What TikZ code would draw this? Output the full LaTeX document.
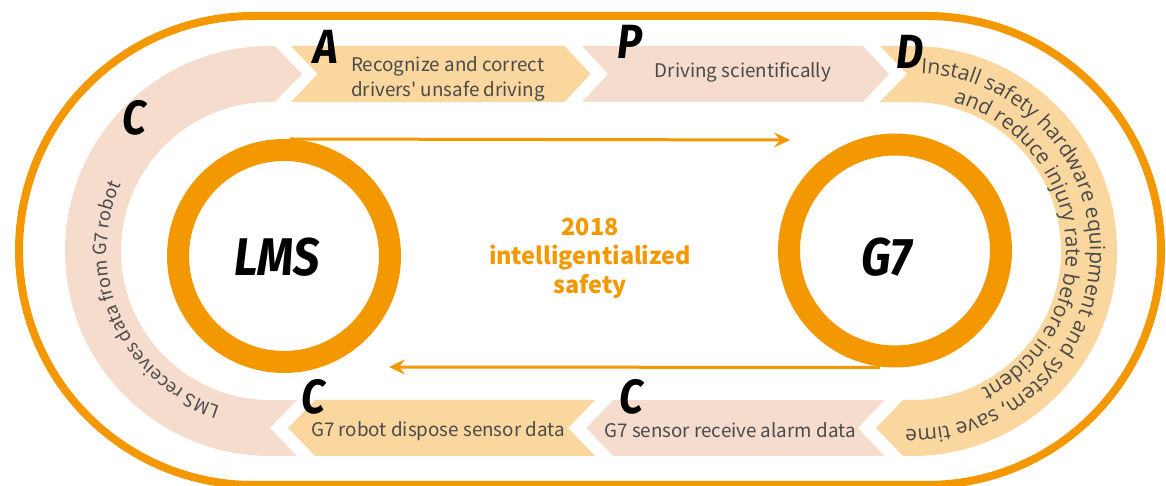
\documentclass[tikz,border=0pt]{standalone}
\usepackage{fontspec}
\setmainfont{Noto Sans CJK SC}[Ligatures=TeXOff]
\newfontfamily\letterfont{Fira Sans}[FakeStretch=0.88]
\newfontfamily\arcfont{Open Sans}
\usetikzlibrary{decorations.text,arrows.meta}
\definecolor{org}{HTML}{F39800}
\definecolor{pinkband}{HTML}{F5DCCD}
\definecolor{yelband}{HTML}{FAD79E}
\definecolor{txt}{HTML}{4A4A4A}
\tikzset{
  letter/.style={font=\letterfont\bfseries\itshape\fontsize{24}{24}\selectfont, text=black, inner sep=0pt},
  bigword/.style={font=\letterfont\bfseries\itshape\fontsize{26.5}{26.5}\selectfont, text=black, inner sep=0pt},
  body/.style={font=\fontsize{9.4}{12.5}\selectfont, text=txt, align=left, inner sep=0pt},
  midtext/.style={font=\bfseries\fontsize{11.7}{14.5}\selectfont, text=org, align=center, inner sep=0pt},
  ring/.style={circle, draw=org, line width=11pt, minimum size=106pt, inner sep=0pt},
  flow/.style={draw=org, line width=1.5pt, -{Stealth[length=8pt,width=7.5pt,inset=3pt]}},
  arctext/.style={decorate, decoration={text along path, text align=center, text={#1}}}
}
\begin{document}
\begin{tikzpicture}[x=0.5pt,y=0.5pt]
\useasboundingbox (0,0) rectangle (1166,486);
% outer racetrack
\draw[org, line width=4pt] (253.5,470) -- (926.5,470) arc[start angle=90,end angle=-90,radius=234.5] -- (253.5,1) arc[start angle=270,end angle=90,radius=234.5] -- cycle;
% left band
\fill[pinkband] (275,440) -- (302,412) -- (275,384) -- (270,384) arc[start angle=90,end angle=270,radius=149] -- (297,86) -- (270,58) -- (297,30) -- (270,30) arc[start angle=270,end angle=90,radius=205] -- cycle;
% right band
\fill[yelband] (880,440) -- (907,412) -- (880,384) -- (912,384) arc[start angle=90,end angle=-90,radius=149] -- (903,86) -- (876,58) -- (903,30) -- (912,30) arc[start angle=-90,end angle=90,radius=205] -- cycle;
% top boxes
\fill[yelband] (291,440) -- (317.5,412) -- (291,384) -- (564.5,384) -- (590.5,412) -- (564.5,440) -- cycle;
\fill[pinkband] (582,440) -- (608,412) -- (582,384) -- (863,384) -- (889,412) -- (863,440) -- cycle;
% bottom boxes
\fill[yelband] (288,58) -- (315,86) -- (595,86) -- (568,58) -- (595,30) -- (315,30) -- cycle;
\fill[pinkband] (586.5,58) -- (613,86) -- (884.5,86) -- (858,58) -- (884.5,30) -- (613,30) -- cycle;
% letters
\node[letter] (lA) at (326,439) {A};
\node[letter] (lP) at (630,444) {P};
\node[letter] (lD) at (910,434) {D};
\node[letter] (lC1) at (134,368) {C};
\node[letter] (lC2) at (313,89) {C};
\node[letter] (lC3) at (631,89) {C};
% box texts
\node[body] (tA) at (448,407.5) {Recognize and correct\\drivers' unsafe driving};
\node[body] (tP) at (743,414) {Driving scientifically};
\node[body] (tR) at (438,55) {G7 robot dispose sensor data};
\node[body] (tS) at (730,56) {G7 sensor receive alarm data};
% arc texts
\path[arctext={|\fontsize{9.1}{10}\selectfont\color{txt}|LMS receives data from G7 robot}] (270,235) ++(258:163) arc[start angle=258,end angle=150,radius=163];
\path[arctext={|\arcfont\fontsize{10.5}{11}\selectfont\color{txt}|Install safety hardware equipment and system, save time}] (912,235) ++(100:178) arc[start angle=100,end angle=-105,radius=178];
\path[arctext={|\arcfont\fontsize{10.5}{11}\selectfont\color{txt}|and reduce injury rate before incident}] (912,235) ++(85:154) arc[start angle=85,end angle=-74,radius=154];
% rings
\node[ring] (lms) at (284,230) {};
\node[ring] (g7) at (895,235.5) {};
\node[bigword] (lmst) at (277,229) {LMS};
\node[bigword] (g7t) at (887,229) {G7};
\node[midtext] (mid) at (590,228) {2018\\intelligentialized\\safety};
% arrows
\coordinate (topend) at (790,346);
\coordinate (botend) at (389,119);
\draw[flow] (lms.north -| 290,0) -- (topend);
\draw[flow] (g7.south -| 880,0) -- (botend);
\end{tikzpicture}
\end{document}
